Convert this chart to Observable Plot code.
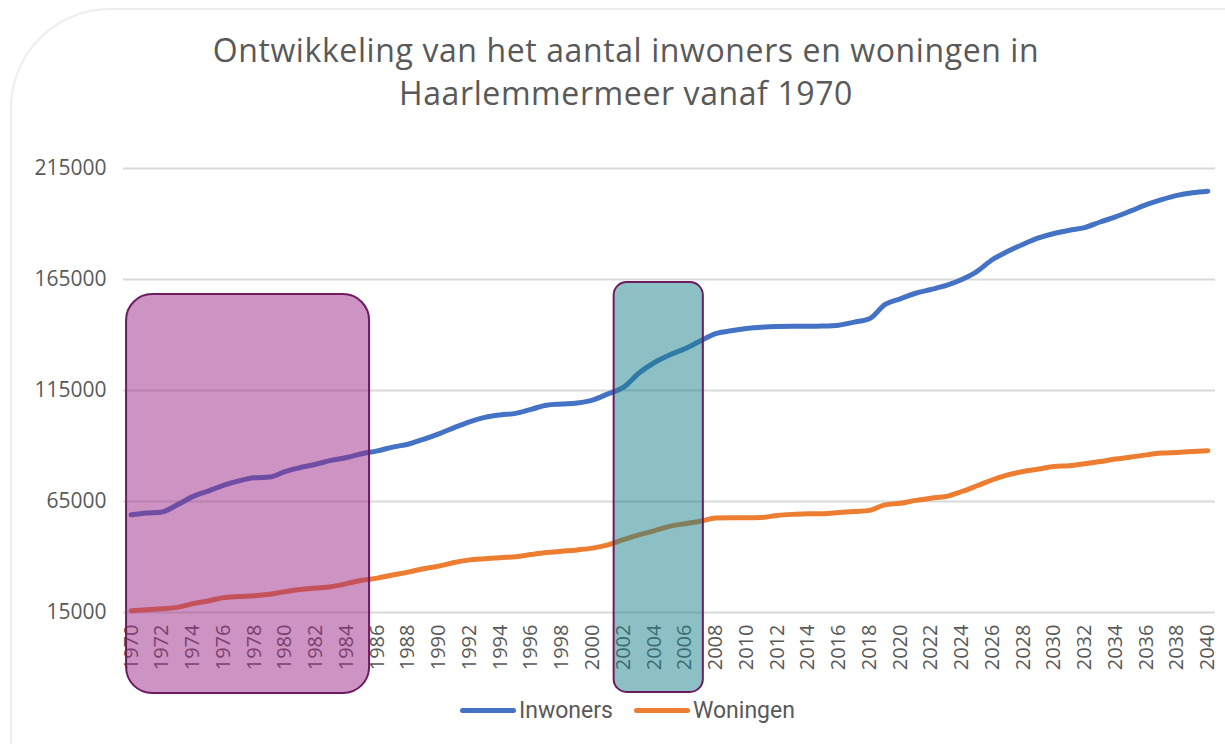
<!DOCTYPE html>
<html>
<head>
<meta charset="utf-8">
<script src="https://cdn.jsdelivr.net/npm/d3@7"></script>
<script src="https://cdn.jsdelivr.net/npm/@observablehq/plot@0.6"></script>
<style>
  html, body { margin: 0; padding: 0; background: #fff; }
  body { width: 1225px; height: 744px; overflow: hidden; position: relative; font-family: "Open Sans", "Noto Sans", sans-serif; }
  #frame { position: absolute; left: 10px; top: 8px; width: 1300px; height: 900px; border: 2px solid #eeeeee; border-top-left-radius: 100px; box-sizing: border-box; }
  #title { position: absolute; left: 0; top: 28px; width: 1252px; text-align: center; color: #595959; font-size: 32px; letter-spacing: 0.6px; line-height: 43px; }
  #chart { position: absolute; left: 0; top: 125px; }
  #legend { position: absolute; left: 460px; top: 697px; display: flex; align-items: center; color: #595959; font-family: "Liberation Sans Narrow", "Roboto", sans-serif; font-size: 23px; }
  #legend .sw { display: inline-block; width: 56px; height: 5px; border-radius: 3px; margin-right: 3px; }
  #legend .item { display: flex; align-items: center; margin-right: 21px; }
</style>
</head>
<body>
<div id="frame"></div>
<div id="title">Ontwikkeling van het aantal inwoners en woningen in<br>Haarlemmermeer vanaf 1970</div>
<div id="chart"></div>
<div id="legend"></div>
<script>
const years = [1970,1971,1972,1973,1974,1975,1976,1977,1978,1979,
  1980,1981,1982,1983,1984,1985,1986,1987,1988,1989,
  1990,1991,1992,1993,1994,1995,1996,1997,1998,1999,
  2000,2001,2002,2003,2004,2005,2006,2007,2008,2009,
  2010,2011,2012,2013,2014,2015,2016,2017,2018,2019,
  2020,2021,2022,2023,2024,2025,2026,2027,2028,2029,
  2030,2031,2032,2033,2034,2035,2036,2037,2038,2039,2040];

const inwoners = [59000,59800,60300,63500,67200,69700,72300,74300,75700,76000,
  78500,80300,81800,83500,84800,86500,87800,89500,90800,93000,
  95500,98300,100900,102900,104000,104700,106500,108400,108900,109400,
  110700,113500,116400,122800,127500,131000,133800,137300,140600,141900,
  142900,143500,143800,143900,143900,144000,144400,145800,147300,153700,
  156300,158800,160500,162300,165000,168700,174000,177700,180900,183700,
  185700,187200,188400,190900,193200,195900,198700,201000,202900,204100,204800];

const woningen = [15800,16200,16700,17300,19000,20200,21700,22200,22500,23200,
  24400,25400,26000,26600,28000,29500,30500,31900,33200,34700,
  35900,37500,38700,39200,39700,40100,41100,42000,42600,43200,
  44000,45500,47800,50000,51800,53800,55000,56100,57600,57700,
  57700,57800,58700,59200,59500,59500,60000,60500,61000,63500,
  64200,65500,66500,67300,69500,72100,74800,77000,78500,79600,
  80800,81100,82000,83000,84100,85000,86000,86800,87100,87500,87900];

const seriesNames = ["Inwoners", "Woningen"];
const seriesColors = ["#4472C4", "#ED7D31"];

const yTicks = [15000, 65000, 115000, 165000, 215000];
const xTicks = [1970,1972,1974,1976,1978,1980,1982,1984,1986,1988,1990,1992,1994,1996,1998,
  2000,2002,2004,2006,2008,2010,2012,2014,2016,2018,2020,2022,2024,2026,2028,2030,2032,2034,2036,2038,2040];

// highlight boxes (annotations), in data units: years and values
const highlightNames = ["paars", "groen"];
const highlightX1 = [1969.7, 2001.4];
const highlightX2 = [1985.5, 2007.2];
const highlightY1 = [-21500, -21000];
const highlightY2 = [158200, 163600];

const data = [];
years.forEach((yr, i) => {
  data.push({year: yr, value: inwoners[i], series: seriesNames[0]});
  data.push({year: yr, value: woningen[i], series: seriesNames[1]});
});
const highlights = highlightNames.map((n, i) => ({name: n, x1: highlightX1[i], x2: highlightX2[i], y1: highlightY1[i], y2: highlightY2[i]}));

const chart = Plot.plot({
  width: 1225,
  height: 555,
  marginTop: 43,
  marginBottom: 68,
  marginLeft: 123,
  marginRight: 10,
  style: {fontFamily: "'Open Sans', sans-serif", color: "#595959", background: "transparent", overflow: "visible"},
  x: {domain: [1969.5, 2040.5]},
  y: {domain: [15000, 215000]},
  color: {domain: seriesNames, range: seriesColors},
  marks: [
    Plot.gridY(yTicks, {stroke: "#d9d9d9", strokeOpacity: 1, strokeWidth: 2}),
    Plot.axisY({ticks: yTicks, tickSize: 0, tickPadding: 17, tickFormat: d => String(d), fontSize: 21, fill: "#595959", label: null}),
    Plot.axisX({ticks: xTicks, tickSize: 0, tickPadding: 12, tickRotate: -90, tickFormat: d => String(d), fontSize: 20, fill: "#595959", label: null}),
    Plot.line(data, {x: "year", y: "value", z: "series", stroke: "series", strokeWidth: 5, curve: "monotone-x", strokeLinecap: "round", strokeLinejoin: "round"}),
    Plot.rect(highlights.filter(d => d.name === "paars"), {x1: "x1", x2: "x2", y1: "y1", y2: "y2", fill: "rgb(156,40,134)", fillOpacity: 0.5, stroke: "#6e1a60", strokeWidth: 2, rx: 26}),
    Plot.rect(highlights.filter(d => d.name === "groen"), {x1: "x1", x2: "x2", y1: "y1", y2: "y2", fill: "rgb(25,129,137)", fillOpacity: 0.5, stroke: "#6e1a60", strokeWidth: 2, rx: 13})
  ]
});
document.getElementById("chart").appendChild(chart);

const legend = document.getElementById("legend");
seriesNames.forEach((name, i) => {
  const item = document.createElement("div");
  item.className = "item";
  const sw = document.createElement("span");
  sw.className = "sw";
  sw.style.background = seriesColors[i];
  item.appendChild(sw);
  const t = document.createElement("span");
  t.textContent = name;
  item.appendChild(t);
  legend.appendChild(item);
});
</script>
</body>
</html>
